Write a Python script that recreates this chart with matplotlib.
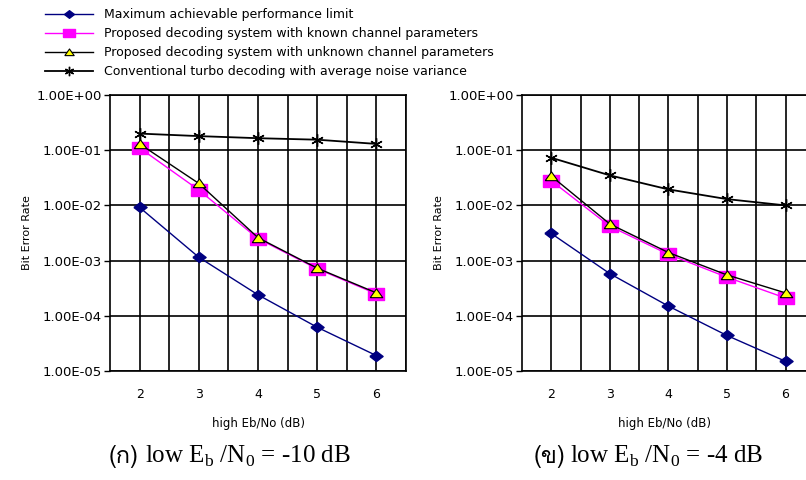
import numpy as np
import matplotlib
matplotlib.use('Agg')
import matplotlib.pyplot as plt
from matplotlib import font_manager, ft2font
from matplotlib.ticker import FixedLocator, FuncFormatter, NullLocator

plt.rcParams['font.family'] = ['DejaVu Sans']

# find a font that has Thai glyphs for the captions
thai_font = None
for f in font_manager.fontManager.ttflist:
    try:
        if 0x0E01 in ft2font.FT2Font(f.fname).get_charmap():
            thai_font = f.name
            break
    except Exception:
        pass

ebno = [2, 3, 4, 5, 6]

# (a) low Eb/N0 = -10 dB
a_limit = [9.2e-3, 1.15e-3, 2.4e-4, 6.2e-5, 1.9e-5]
a_known = [0.11, 1.9e-2, 2.5e-3, 7.1e-4, 2.5e-4]
a_unknown = [0.13, 2.5e-2, 2.6e-3, 7.3e-4, 2.6e-4]
a_conv = [0.20, 0.18, 0.165, 0.155, 0.13]

# (b) low Eb/N0 = -4 dB
b_limit = [3.1e-3, 5.8e-4, 1.5e-4, 4.4e-5, 1.5e-5]
b_known = [2.8e-2, 4.2e-3, 1.3e-3, 5.0e-4, 2.1e-4]
b_unknown = [3.4e-2, 4.6e-3, 1.4e-3, 5.5e-4, 2.6e-4]
b_conv = [7.3e-2, 3.5e-2, 1.95e-2, 1.3e-2, 1.0e-2]

labels = ['Maximum achievable performance limit',
          'Proposed decoding system with known channel parameters',
          'Proposed decoding system with unknown channel parameters',
          'Conventional turbo decoding with average noise variance']

yticks = [1e0, 1e-1, 1e-2, 1e-3, 1e-4, 1e-5]

W, H = 806, 480
fig = plt.figure(figsize=(W / 100, H / 100), dpi=100)

# the markers in the source are a bit wider than tall
diamond = [(-1.3, 0), (0, -1), (1.3, 0), (0, 1), (-1.3, 0)]
rect = [(-1.35, -1), (1.35, -1), (1.35, 1), (-1.35, 1), (-1.35, -1)]
tri = [(-1.2, -0.8), (1.2, -0.8), (0, 0.9), (-1.2, -0.8)]
star = (6, 2, 0)


def panel(ax, limit, known, unknown, conv, xlim):
    h1, = ax.plot(ebno, limit, color='#000080', lw=1, marker=diamond, ms=9.5,
                  mfc='#000080', mec='#000080', zorder=5)
    h2, = ax.plot(ebno, known, color='#ff00ff', lw=1, marker=rect, ms=11,
                  mfc='#ff00ff', mec='#ff00ff', zorder=5)
    h3, = ax.plot(ebno, unknown, color='black', lw=1, marker=tri, ms=9,
                  mfc='#ffff00', mec='black', mew=0.8, zorder=6)
    h4, = ax.plot(ebno, conv, color='black', lw=1.3, marker=star, ms=9,
                  mec='black', mew=1, zorder=5)
    ax.set_yscale('log')
    ax.set_ylim(1e-5, 1)
    ax.set_xlim(*xlim)
    ax.yaxis.set_major_locator(FixedLocator(yticks))
    ax.yaxis.set_minor_locator(NullLocator())
    ax.yaxis.set_major_formatter(FuncFormatter(lambda v, p: f'{v:.2E}'))
    ax.xaxis.set_major_locator(FixedLocator(ebno))
    ax.xaxis.set_minor_locator(FixedLocator(np.arange(2.5, 6.6, 0.5)))
    ax.grid(True, which='both', axis='x', color='black', lw=1.2)
    ax.grid(True, which='major', axis='y', color='black', lw=1.2)
    ax.set_axisbelow(True)
    ax.tick_params(axis='x', which='both', length=0, pad=12, labelsize=9)
    ax.tick_params(axis='y', length=4, width=1, pad=2, labelsize=9.5)
    for s in ax.spines.values():
        s.set_linewidth(1.2)
    ax.set_xlabel('high Eb/No (dB)', fontsize=8.5, labelpad=12)
    ax.set_ylabel('Bit Error Rate', fontsize=8, labelpad=3)
    return [h1, h2, h3, h4]


ax1 = fig.add_axes([110 / W, 1 - 371 / H, 296 / W, 276 / H])
handles = panel(ax1, a_limit, a_known, a_unknown, a_conv, (1.5, 6.5))

ax2 = fig.add_axes([522 / W, 1 - 371 / H, 284 / W, 276 / H])
panel(ax2, b_limit, b_known, b_unknown, b_conv, (1.5, 6.35))
ax2.spines['right'].set_visible(False)

fig.legend(handles, labels, loc='upper left', bbox_to_anchor=(40 / W, 1 - 3 / H),
           frameon=False, fontsize=9, handlelength=3.8, handletextpad=0.9,
           labelspacing=0.48, borderaxespad=0, markerscale=0.75)

# captions
cap_fam = ['Liberation Serif', 'DejaVu Serif']
thai_fam = [thai_font] if thai_font else ['DejaVu Sans']
y_cap = 1 - 456 / H
fig.text(138 / W, y_cap, '(ก)', ha='right', va='center', fontsize=17, family=thai_fam)
fig.text(145 / W, y_cap, r'low E$_\mathregular{b}$ /N$_\mathregular{0}$ = -10 dB',
         ha='left', va='center', fontsize=18, family=cap_fam)
fig.text(565 / W, y_cap, '(ข)', ha='right', va='center', fontsize=17, family=thai_fam)
fig.text(570 / W, y_cap, r'low E$_\mathregular{b}$ /N$_\mathregular{0}$ = -4 dB',
         ha='left', va='center', fontsize=18, family=cap_fam)

fig.savefig('out.png', dpi=100)
